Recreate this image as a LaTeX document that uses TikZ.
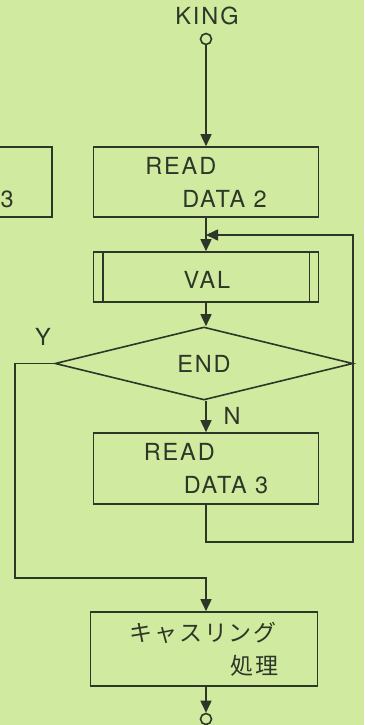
\documentclass[tikz,border=0pt]{standalone}
\usepackage{fontspec}
\setmainfont{TeX Gyre Heros}[LetterSpace=8]
\newfontfamily\jpfont{Noto Sans CJK JP}[LetterSpace=8]
\usetikzlibrary{arrows.meta,shapes.geometric}
\definecolor{bg}{RGB}{208,234,160}
\definecolor{ink}{RGB}{45,55,40}
\tikzset{
  box/.style={draw=ink, line width=1.6pt, minimum width=225pt, inner sep=0pt, text=ink,
    font=\fontsize{23.5}{33}\selectfont, align=left},
  lbl/.style={text=ink, inner sep=0pt, font=\fontsize{23.5}{26}\selectfont},
  conn/.style={draw=ink, line width=1.6pt},
  arr/.style={conn, -{Triangle[width=11pt,length=12pt,fill=ink]}},
  term/.style={circle, draw=ink, line width=1.6pt, fill=bg, inner sep=0pt, minimum size=11pt}
}
\begin{document}
\begin{tikzpicture}[x=1pt,y=-1pt]
\fill[bg] (0,0) rectangle (364,725);
\useasboundingbox (0,0) rectangle (364,725);

\node[lbl] (king) at (207,16) {KING};
\node[term] (start) at (206,39) {};

\node[box, minimum width=80pt, minimum height=70pt] (prev) at (12,182) {};
\node[lbl, anchor=west] (prevtxt) at (0.5,199) {3};

\node[box, minimum height=70pt] (read2) at (206,182) {READ\\\hspace*{37pt}DATA 2};

\node[box, minimum height=50pt] (val) at (206,277) {};
\draw[conn] ([xshift=10pt]val.north west) -- ([xshift=10pt]val.south west);
\draw[conn] ([xshift=-10pt]val.north east) -- ([xshift=-10pt]val.south east);
\node[lbl] (valtxt) at (207,280) {VAL};

\node[diamond, draw=ink, line width=1.6pt, inner sep=0pt, minimum width=298pt, minimum height=73pt,
  text=ink, font=\fontsize{23.5}{26}\selectfont] (endq) at (204,363.5) {END};

\node[box, minimum height=71pt] (read3) at (206,468.5) {READ\\\hspace*{40pt}DATA 3};

\node[box, minimum height=74pt, minimum width=227pt] (castle) at (204,649)
  {{\fontsize{23}{33}\selectfont\jpfont キャスリング}\\\hspace*{101pt}{\fontsize{23}{33}\selectfont\jpfont 処理}};

\node[term] (stop) at (206,719) {};

\coordinate (merge) at (206,235);
\coordinate (loopR) at (353,235);
\coordinate (loopB) at (353,542);
\coordinate (loopL) at (206,542);
\coordinate (yL) at (15,363.5);
\coordinate (yB) at (15,578);
\coordinate (yM) at (206,578);

\draw[arr] (start) -- (read2.north -| start);
\draw[arr] (read2.south -| start) -- (val.north -| start);
\draw[arr] (val.south -| start) -- (endq.north -| start);
\draw[arr] (endq.south -| start) -- (read3.north -| start);
\draw[arr] (endq.west) -- (yL) -- (yB) -- (yM) -- (castle.north -| start);
\draw[arr] (read3.south -| start) -- (loopL) -- (loopB) -- (loopR) -- (merge);
\draw[arr] (castle.south -| start) -- (stop);

\node[lbl] (ylab) at (43,337) {Y};
\node[lbl] (nlab) at (232,416) {N};
\end{tikzpicture}
\end{document}
